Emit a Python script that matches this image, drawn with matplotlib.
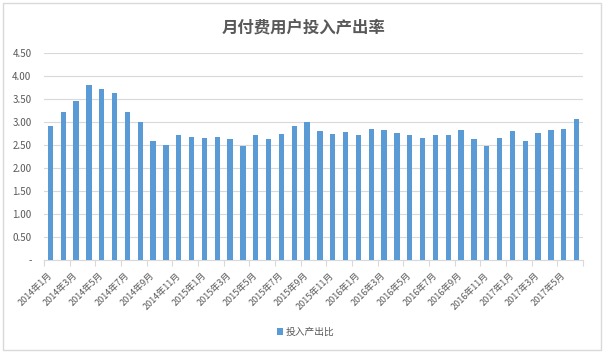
import matplotlib
matplotlib.use("Agg")
import matplotlib.pyplot as plt
from matplotlib.patches import Rectangle
import numpy as np

plt.rcParams['font.family'] = ['Noto Sans CJK SC', 'DejaVu Sans']

title = "月付费用户投入产出率"
series_name = "投入产出比"
months = [f"{y}年{m}月" for y in (2014, 2015, 2016, 2017) for m in range(1, 13)][:42]
values = [2.92, 3.22, 3.45, 3.81, 3.72, 3.64, 3.21, 3.01, 2.59, 2.50, 2.72, 2.68,
          2.65, 2.68, 2.63, 2.47, 2.72, 2.63, 2.75, 2.91, 3.01, 2.80, 2.74, 2.79,
          2.72, 2.84, 2.83, 2.76, 2.72, 2.66, 2.72, 2.72, 2.83, 2.63, 2.48, 2.66,
          2.80, 2.59, 2.76, 2.83, 2.85, 3.07]
yticks = [0, 0.5, 1.0, 1.5, 2.0, 2.5, 3.0, 3.5, 4.0, 4.5]
ytick_labels = ["-", "0.50", "1.00", "1.50", "2.00", "2.50", "3.00", "3.50", "4.00", "4.50"]

W, H = 605, 356
fig = plt.figure(figsize=(W / 100, H / 100), dpi=100)
fig.patch.set_facecolor("white")

# chart border
fig.patches.append(Rectangle((3 / W, 1 - 350 / H), 598 / W, 347 / H,
                             transform=fig.transFigure, fill=False,
                             edgecolor="#D9D9D9", linewidth=1.0))

ax = fig.add_axes([44 / W, 1 - 260 / H, 539 / W, 207 / H])
x = np.arange(len(values))
bars = ax.bar(x, values, width=0.42, color="#5B9BD5", zorder=3, label=series_name)

ax.set_xlim(-0.5, len(values) - 0.5)
ax.set_ylim(0, 4.5)
ax.set_yticks(yticks)
ax.set_yticklabels(ytick_labels)
ax.yaxis.grid(True, color="#D9D9D9", linewidth=0.8, zorder=0)
ax.tick_params(axis='y', length=0, pad=9, labelsize=7, labelcolor="#595959")

for s in ("top", "right", "left"):
    ax.spines[s].set_visible(False)
ax.spines["bottom"].set_color("#D9D9D9")
ax.spines["bottom"].set_linewidth(0.8)

# major ticks at category boundaries every two months
ax.set_xticks(np.arange(-0.5, len(values), 2))
ax.set_xticklabels([])
ax.tick_params(axis='x', which='major', length=4, color="#D9D9D9", width=0.8)
# labels at every other category
ax.set_xticks(x[::2], minor=True)
ax.set_xticklabels(months[::2], minor=True, rotation=45, ha='right', va='center',
                   rotation_mode='anchor', fontsize=6.5, color="#595959")
ax.tick_params(axis='x', which='minor', length=0, pad=10)

fig.text(303 / W, 1 - 27 / H, title, ha='center', va='center', fontsize=11.8,
         color="#595959", fontweight='bold')

fig.legend(handles=[bars], labels=[series_name], loc='center',
           bbox_to_anchor=(306 / W, 1 - 332 / H), frameon=False, fontsize=7,
           handlelength=0.6, handleheight=0.6, handletextpad=0.3,
           labelcolor="#595959")

fig.savefig("out.png", dpi=100)
